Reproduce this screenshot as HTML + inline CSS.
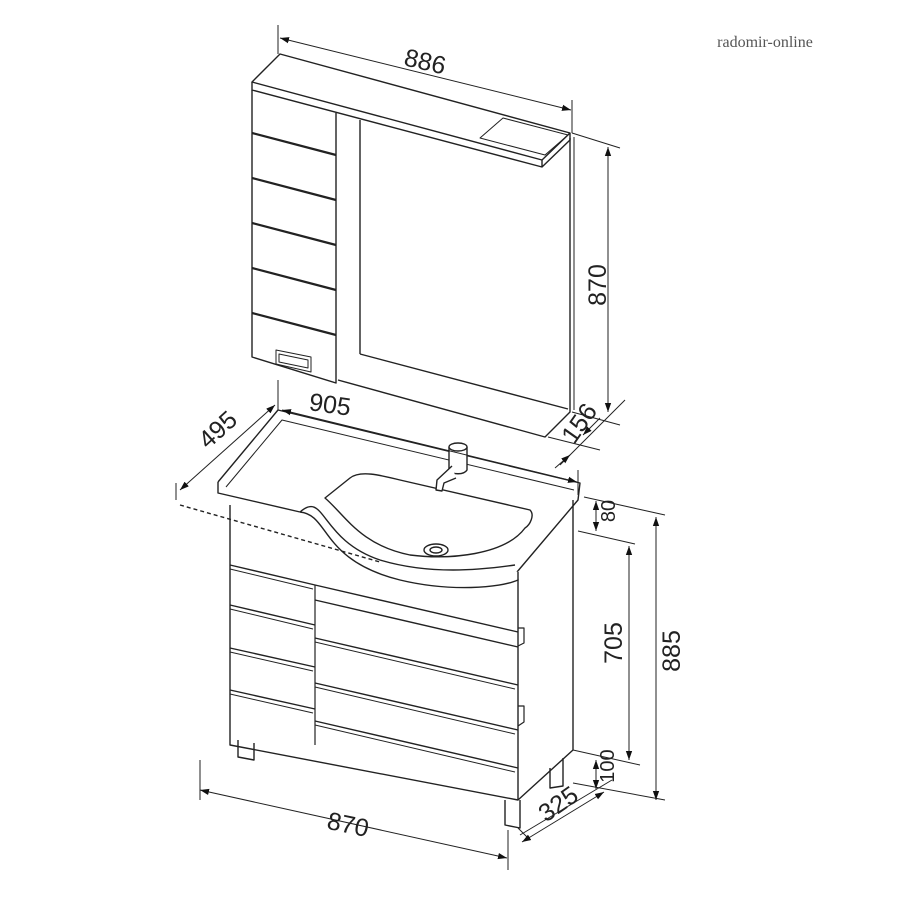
<!DOCTYPE html>
<html><head><meta charset="utf-8"><style>
html,body{margin:0;padding:0;background:#fff;}
svg{display:block}
text{font-family:"Liberation Sans",sans-serif;fill:#222}
</style></head><body>
<svg width="900" height="900" viewBox="0 0 900 900" xmlns="http://www.w3.org/2000/svg">
<defs>
<marker id="a" viewBox="0 0 10 10" refX="10" refY="5" markerWidth="9" markerHeight="9" orient="auto-start-reverse"><path d="M0,1.5 L10,5 L0,8.5 z" fill="#111"/></marker>
</defs>
<text x="765" y="47" text-anchor="middle" style="font-family:'Liberation Serif',serif;font-size:16px;fill:#555">radomir-online</text>
<g fill="none" stroke="#222" stroke-width="1.4" stroke-linejoin="round">
<path d="M252,82 L280,54 L570,133 L542,160 Z" fill="#fff"/>
<path d="M252,82 L252,90 L542,167 L542,160 M542,167 L570,140 L570,133"/>
<path d="M480,138 L503,118 L568,135 L545,155 Z" stroke-width="1"/>
<path d="M252,90 L252,357 L336,383 L336,113"/>
<path d="M360,120 L360,354"/>
<path d="M338,380 L545,437 L570,412 L570,138"/>
<path d="M360,354 L568,409"/>
<path d="M574,137 L574,410" stroke-width="1"/>
<path d="M252,133 L336,155 M252,178 L336,200 M252,223 L336,245 M252,268 L336,290 M252,313 L336,335" stroke-width="2.2"/>
<path d="M276,350 L311,357 L311,372 L276,364 Z M279,354 L308,360 L308,368 L279,362 Z" stroke-width="1"/>
<path d="M218,482 L278,410 L580,483 L578,500 L517,572 L518,580" fill="#fff"/>
<path d="M218,482 L218,493 L300,512"/>
<path d="M226,487 L282,420 L574,490" stroke-width="1"/>
<path d="M300,512 C330,515 320,560 400,580 C450,592 500,588 518,580 L518,572" fill="#fff"/>
<path d="M300,512 C325,490 320,540 380,560 C430,575 480,570 515,565" />
<path d="M325,498 L350,478 C360,470 380,475 400,480 L530,510 C535,515 530,525 525,528 C505,555 450,560 410,555 C360,545 345,515 325,498 Z" fill="#fff"/>
<ellipse cx="436" cy="550" rx="12" ry="6"/>
<ellipse cx="436" cy="550" rx="6" ry="3"/>
<path d="M449,447 L449,470 C452,475 464,475 467,470 L467,447" fill="#fff"/>
<ellipse cx="458" cy="447" rx="9" ry="4" fill="#fff"/>
<path d="M452,466 L437,480 L436,490 L442,491 L444,483 L456,478" fill="#fff"/>
<path d="M230,505 L230,745 L518,800 L518,580"/>
<path d="M573,500 L573,750 L518,800"/>
<path d="M315,585 L315,745" stroke-width="1.2"/>
<path d="M230,565 L315,585 L518,632 M230,605 L315,625 M230,648 L315,667 M230,690 L315,709 M315,600 L518,647 M315,638 L518,685 M315,683 L518,730 M315,721 L518,768" />
<path d="M230,569 L313,589 M315,642 L515,689 M315,687 L515,734 M315,725 L515,772 M230,609 L313,629 M230,652 L313,671 M230,694 L313,713" stroke-width="1"/>
<path d="M518,628 L524,628 L524,643 L518,646 M518,706 L524,706 L524,722 L518,726" stroke-width="1.2"/>
<path d="M238,740 L238,757 L254,760 L254,743"/>
<path d="M505,800 L505,825 L520,828 L520,800"/>
<path d="M550,768 L550,788 L563,786 L563,758"/>
<path d="M180,505 L380,562" stroke-dasharray="4,3" stroke-width="1.4"/>
</g>
<g stroke="#222" stroke-width="1" fill="none">
<path d="M278,25 L278,54 M572,100 L572,133"/>
<path d="M280,38 L571,110" marker-start="url(#a)" marker-end="url(#a)"/>
<path d="M572,133 L620,148 M572,412 L620,425"/>
<path d="M608,147 L608,412" marker-start="url(#a)" marker-end="url(#a)"/>
<path d="M548,437 L600,450"/>
<path d="M625,400 L560,465" />
<path d="M600,418 L583,435" marker-end="url(#a)"/>
<path d="M570,455 L555,468" marker-start="url(#a)"/>
<path d="M278,380 L278,410 M578,470 L578,495"/>
<path d="M282,410 L577,482" marker-start="url(#a)" marker-end="url(#a)"/>
<path d="M176,483 L176,500"/>
<path d="M180,490 L275,405" marker-start="url(#a)" marker-end="url(#a)"/>
<path d="M584,497 L665,515 M578,531 L635,544 M573,750 L640,765 M573,783 L665,800"/>
<path d="M596,501 L596,531" marker-start="url(#a)" marker-end="url(#a)"/>
<path d="M629,546 L629,760" marker-start="url(#a)" marker-end="url(#a)"/>
<path d="M656,517 L656,800" marker-start="url(#a)" marker-end="url(#a)"/>
<path d="M596,760 L596,789" marker-start="url(#a)" marker-end="url(#a)"/>
<path d="M200,760 L200,800 M508,830 L508,870"/>
<path d="M200,790 L507,858" marker-start="url(#a)" marker-end="url(#a)"/>
<path d="M518,828 L530,840 M520,835 L612,780" />
<path d="M522,842 L604,792" marker-start="url(#a)" marker-end="url(#a)"/>
</g>
<g style="font-size:25px">
<text x="425" y="70" text-anchor="middle" transform="rotate(13 425 62)">886</text>
<text x="606" y="285" text-anchor="middle" transform="rotate(-90 606 285)">870</text>
<text x="583" y="438" text-anchor="middle" transform="rotate(-55 575 430)">156</text>
<text x="330" y="413" text-anchor="middle" transform="rotate(8 330 405)">905</text>
<text x="218" y="438" text-anchor="middle" transform="rotate(-42 218 430)">495</text>
<text x="618" y="520" text-anchor="middle" style="font-size:20px" transform="rotate(-90 612 517)">80</text>
<text x="627" y="652" text-anchor="middle" transform="rotate(-90 620 650)">705</text>
<text x="685" y="660" text-anchor="middle" transform="rotate(-90 678 658)">885</text>
<text x="612" y="776" text-anchor="middle" style="font-size:20px" transform="rotate(-90 608 770)">100</text>
<text x="560" y="815" text-anchor="middle" transform="rotate(-35 555 808)">325</text>
<text x="348" y="833" text-anchor="middle" transform="rotate(12 348 825)">870</text>
</g>
</svg>
</body></html>
